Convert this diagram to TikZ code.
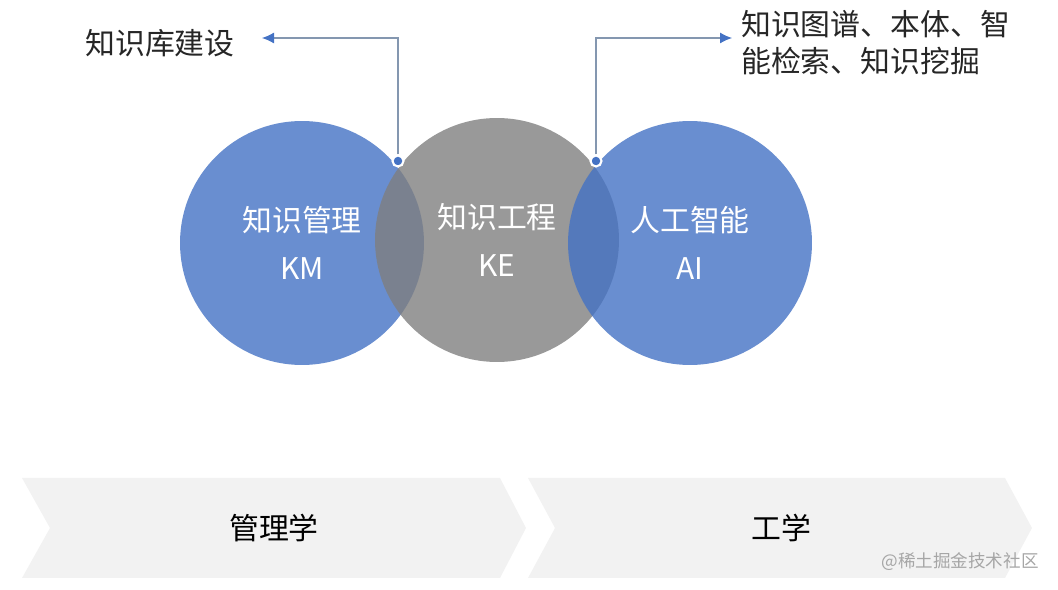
\documentclass[tikz,border=0pt]{standalone}
\usepackage{fontspec}
\setmainfont{Noto Sans CJK SC}
\usetikzlibrary{positioning,arrows.meta}
\definecolor{kmBlue}{HTML}{4472C4}
\definecolor{keGray}{HTML}{7F7F7F}
\definecolor{calloutLine}{HTML}{8497B0}
\definecolor{inkGray}{HTML}{262626}
\definecolor{bandGray}{HTML}{F2F2F2}
\definecolor{markGray}{HTML}{A6A6A6}
\tikzset{
    venn/.style={circle,minimum size=4.88cm,inner sep=0pt,fill opacity=0.8,
        text opacity=1,text=white,align=center,font=\fontsize{17}{27}\selectfont},
    joint/.style={circle,fill=kmBlue,draw=white,line width=1.2pt,
        minimum size=0.22cm,inner sep=0pt},
    callout/.style={-{Latex[length=2.4mm,width=2.2mm,color=kmBlue]},
        draw=calloutLine,line width=0.6pt},
    notetext/.style={text=inkGray,align=left,font=\fontsize{17}{21}\selectfont},
    band/.style={fill=bandGray,draw=none},
    bandtext/.style={text=black,font=\fontsize{17}{20}\selectfont}
}
\begin{document}
\begin{tikzpicture}[x=0.02cm,y=-0.02cm]
    \useasboundingbox (0,0) rectangle (1058,590);
    % three overlapping fields
    \node[venn,fill=kmBlue] (km) at (302,243) {知识管理\\KM};
    \node[venn,fill=keGray] (ke) at (497,240) {知识工程\\KE};
    \node[venn,fill=kmBlue] (ai) at (690,243) {人工智能\\AI};
    % callouts
    \node[joint] (jointLeft) at (398,161) {};
    \node[joint] (jointRight) at (596,161) {};
    \coordinate (kbTip) at (262,38);
    \coordinate (ontoTip) at (732,38);
    \node[notetext] (kb) at (160,43) {知识库建设};
    \node[notetext,anchor=west] (onto) at (735,43) {知识图谱、本体、智\\能检索、知识挖掘};
    \draw[callout] (jointLeft) |- (kbTip);
    \draw[callout] (jointRight) |- (ontoTip);
    % disciplines
    \fill[band] (22,478) -- (500,478) -- (526,528) -- (500,578) -- (22,578) -- (50,528) -- cycle;
    \fill[band] (528,478) -- (1005,478) -- (1032,528) -- (1005,578) -- (528,578) -- (555,528) -- cycle;
    \node[bandtext] (mgmt) at (274,528) {管理学};
    \node[bandtext] (eng) at (781,528) {工学};
    \node[text=markGray,font=\fontsize{10}{12}\selectfont] (mark) at (960,562) {@稀土掘金技术社区};
\end{tikzpicture}
\end{document}
